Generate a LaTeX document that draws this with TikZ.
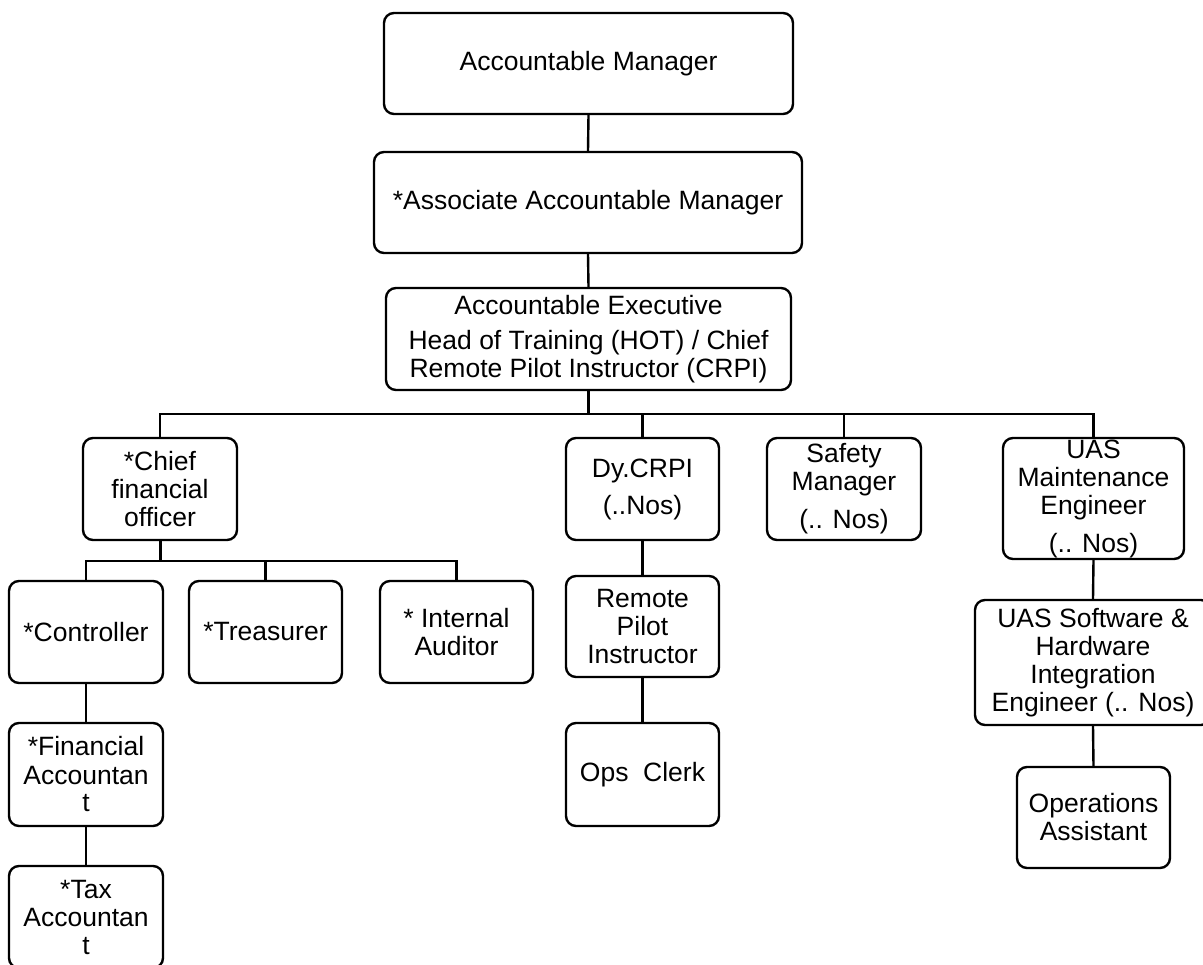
\documentclass[tikz,border=0pt]{standalone}
\usepackage{fontspec}
\setmainfont{Liberation Sans}
\begin{document}
\begin{tikzpicture}[x=1pt,y=-1pt,
  box/.style={draw=black, line width=2.4pt, rounded corners=10pt, fill=white,
    inner sep=0pt, align=center,
    font=\fontsize{26.5}{28}\selectfont},
  conn/.style={draw=black, line width=2.4pt}]
\useasboundingbox (0,0) rectangle (1203,965);
\fill[white] (0,0) rectangle (1203,965);

% top chain
\node[box, minimum width=409pt, minimum height=101pt] (am) at (588.5,63.5) {Accountable Manager};
\node[box, minimum width=428pt, minimum height=101pt] (aam) at (588,202.5) {*Associate Accountable Manager};
\node[box, minimum width=405pt, minimum height=102pt] (ae) at (588.5,339) {Accountable Executive\\[7pt]Head of Training (HOT) / Chief\\Remote Pilot Instructor (CRPI)};

% second level
\node[box, minimum width=154pt, minimum height=102pt] (cfo) at (160,489) {*Chief\\financial\\officer};
\node[box, minimum width=153pt, minimum height=102pt] (dy) at (642.5,489) {Dy.CRPI\\[9pt](..Nos)};
\node[box, minimum width=154pt, minimum height=102pt] (saf) at (844,489) {Safety\\Manager\\[10pt](.. Nos)};
\node[box, minimum width=181pt, minimum height=121pt] (ume) at (1093.5,498.5) {UAS\\Maintenance\\Engineer\\[10pt](.. Nos)};

% finance branch
\node[box, minimum width=154pt, minimum height=102pt] (ctrl) at (86,632) {*Controller};
\node[box, minimum width=153pt, minimum height=102pt] (tre) at (265.5,632) {*Treasurer};
\node[box, minimum width=153pt, minimum height=102pt] (ia) at (456.5,632) {* Internal\\Auditor};
\node[box, minimum width=154pt, minimum height=103pt] (fa) at (86,774.5) {*Financial\\Accountan\\t};
\node[box, minimum width=154pt, minimum height=102pt] (tax) at (86,917) {*Tax\\Accountan\\t};

% CRPI branch
\node[box, minimum width=153pt, minimum height=101pt] (rpi) at (642.5,626.5) {Remote\\Pilot\\Instructor};
\node[box, minimum width=153pt, minimum height=103pt] (ops) at (642.5,774.5) {Ops\ \ Clerk};

% maintenance branch
\node[box, minimum width=236pt, minimum height=125pt] (sw) at (1093,662.5) {UAS Software \&\\Hardware\\Integration\\Engineer (.. Nos)};
\node[box, minimum width=153pt, minimum height=101pt] (oa) at (1093.5,817.5) {Operations\\Assistant};

% bus points
\coordinate (bus) at (588.5,414);
\coordinate (sbus) at (160,561);

% connectors
\draw[conn] (am.south) -- (aam.north);
\draw[conn] (aam.south) -- (ae.north);
\draw[conn] (ae.south) -- (bus);
\draw[conn] (cfo.north) |- (bus) -| (ume.north);
\draw[conn] (dy.north) -- (dy.north |- bus);
\draw[conn] (saf.north) -- (saf.north |- bus);

\draw[conn, line width=3pt] (cfo.south) -- (sbus);
\draw[conn] (ctrl.north) |- (sbus) -| (ia.north);
\draw[conn] (tre.north) -- (tre.north |- sbus);
\draw[conn] (ctrl.south) -- (fa.north);
\draw[conn] (fa.south) -- (tax.north);

\draw[conn] (dy.south) -- (rpi.north);
\draw[conn] (rpi.south) -- (ops.north);

\draw[conn] (ume.south) -- (sw.north);
\draw[conn] (sw.south) -- (oa.north);
\end{tikzpicture}
\end{document}
